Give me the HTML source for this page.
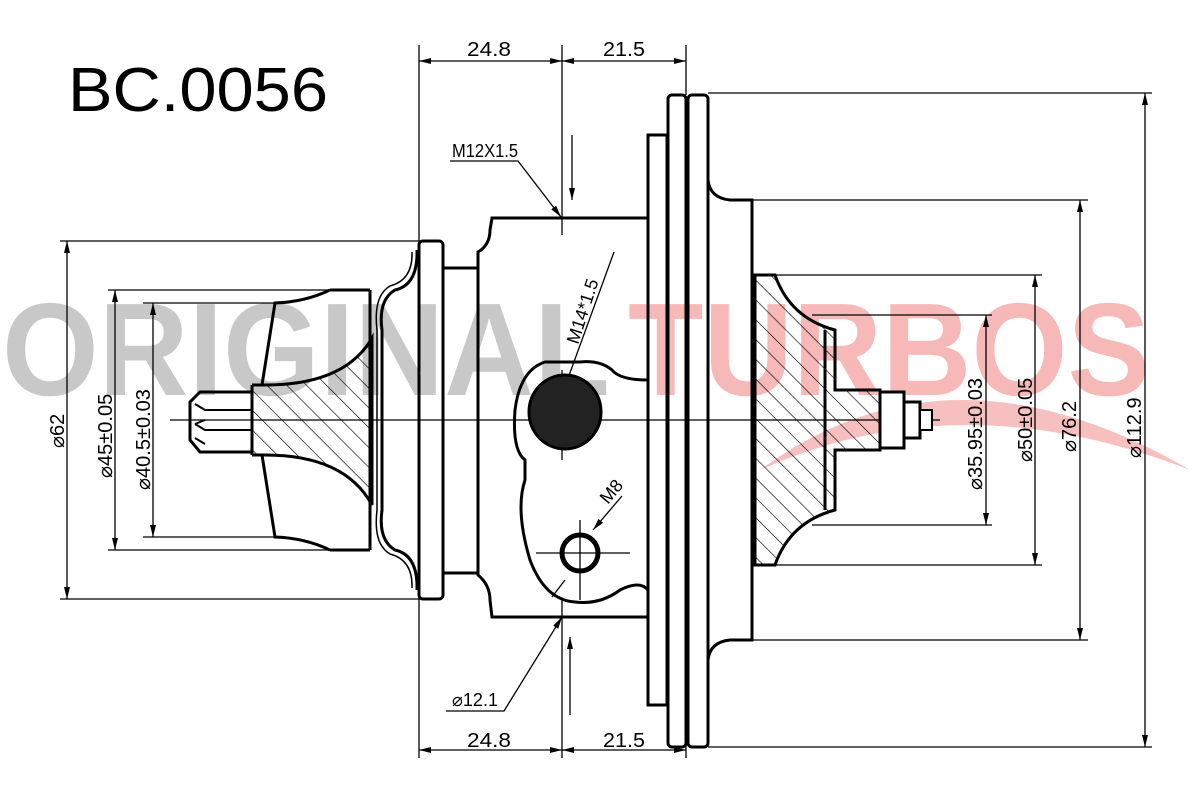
<!DOCTYPE html>
<html><head><meta charset="utf-8"><style>html,body{margin:0;padding:0;background:#fff}svg{display:block}</style></head>
<body>
<svg width="1200" height="800" viewBox="0 0 1200 800" xmlns="http://www.w3.org/2000/svg" font-family="Liberation Sans, sans-serif">
<defs>
<marker id="a" viewBox="0 0 12 6" refX="12" refY="3" markerWidth="12" markerHeight="6" orient="auto-start-reverse" markerUnits="userSpaceOnUse"><path d="M0,0L12,3L0,6z" fill="#000"/></marker>
<pattern id="h" width="14" height="14" patternUnits="userSpaceOnUse" patternTransform="rotate(-45)"><line x1="0" y1="0" x2="0" y2="14" stroke="#000" stroke-width="1.3"/></pattern>
</defs>
<rect width="1200" height="800" fill="#fff"/>
<text x="2" y="395" font-size="132" font-weight="bold" fill="#c8c8c8" textLength="608" lengthAdjust="spacingAndGlyphs">ORIGINAL</text>
<text x="628" y="395" font-size="132" font-weight="bold" fill="#f7b8b8" textLength="522" lengthAdjust="spacingAndGlyphs">TURBOS</text>
<path d="M760,470 Q950,330 1190,470 Q960,380 760,470z" fill="#f7c0c0"/>
<text x="68" y="111" font-size="62" fill="#000" textLength="260" lengthAdjust="spacingAndGlyphs">BC.0056</text>

<g stroke="#000" fill="none">
<line x1="170" y1="420" x2="940" y2="420" stroke-width="1.2"/>
<g stroke-width="1.3">
<line x1="419" y1="45" x2="419" y2="758"/>
<line x1="562" y1="45" x2="562" y2="235"/>
<line x1="562" y1="600" x2="562" y2="758"/>
<line x1="686" y1="45" x2="686" y2="95"/>
<line x1="686" y1="745" x2="686" y2="758"/>
<line x1="60" y1="241" x2="420" y2="241"/>
<line x1="60" y1="599" x2="420" y2="599"/>
<line x1="108" y1="290" x2="330" y2="290"/>
<line x1="108" y1="550" x2="330" y2="550"/>
<line x1="143" y1="303" x2="280" y2="303"/>
<line x1="143" y1="537" x2="280" y2="537"/>
<line x1="708" y1="93" x2="1152" y2="93"/>
<line x1="708" y1="747" x2="1152" y2="747"/>
<line x1="752" y1="200" x2="1088" y2="200"/>
<line x1="752" y1="640" x2="1088" y2="640"/>
<line x1="755" y1="275" x2="1042" y2="275"/>
<line x1="755" y1="565" x2="1042" y2="565"/>
<line x1="812" y1="315" x2="992" y2="315"/>
<line x1="812" y1="525" x2="992" y2="525"/>
<line x1="419" y1="61" x2="562" y2="61" marker-start="url(#a)" marker-end="url(#a)"/>
<line x1="562" y1="61" x2="686" y2="61" marker-start="url(#a)" marker-end="url(#a)"/>
<line x1="419" y1="750" x2="562" y2="750" marker-start="url(#a)" marker-end="url(#a)"/>
<line x1="562" y1="750" x2="686" y2="750" marker-start="url(#a)" marker-end="url(#a)"/>
<line x1="67" y1="241" x2="67" y2="599" marker-start="url(#a)" marker-end="url(#a)"/>
<line x1="115" y1="290" x2="115" y2="550" marker-start="url(#a)" marker-end="url(#a)"/>
<line x1="153" y1="303" x2="153" y2="537" marker-start="url(#a)" marker-end="url(#a)"/>
<line x1="1145" y1="93" x2="1145" y2="747" marker-start="url(#a)" marker-end="url(#a)"/>
<line x1="1080" y1="200" x2="1080" y2="640" marker-start="url(#a)" marker-end="url(#a)"/>
<line x1="1035" y1="275" x2="1035" y2="565" marker-start="url(#a)" marker-end="url(#a)"/>
<line x1="986" y1="315" x2="986" y2="525" marker-start="url(#a)" marker-end="url(#a)"/>
<polyline points="450,161 518,161 561,217" marker-end="url(#a)"/>
<line x1="572" y1="135" x2="572" y2="200" marker-end="url(#a)"/>
<polyline points="446,711 504,711 562,617" marker-end="url(#a)"/>
<line x1="570" y1="715" x2="570" y2="637" marker-end="url(#a)"/>
<line x1="614" y1="252" x2="563" y2="392"/>
<line x1="622" y1="496" x2="593" y2="530" marker-end="url(#a)"/>
<line x1="552" y1="597" x2="565" y2="580"/>
<line x1="536" y1="553" x2="630" y2="553"/>
<line x1="580" y1="520" x2="580" y2="600"/>
<line x1="562" y1="370" x2="562" y2="460"/>
</g>

<g stroke-width="3">
<rect x="419" y="241" width="24" height="358" rx="4"/>
<rect x="443" y="268" width="35" height="305"/>
<path d="M417,250 Q418,285 395,290 Q378,300 382,330 L382,510 Q378,540 395,550 Q418,555 417,590"/>
<path d="M412,252 Q413,280 390,286 Q373,296 377,330 L377,510 Q373,544 390,554 Q413,560 412,588" stroke-width="1.5"/>
<path d="M370,290 L370,550"/>
<path d="M330,290 L370,290 M330,550 L370,550"/>
<path d="M330,290 Q305,302 275,303 L262,385 M330,550 Q305,538 275,537 L262,455"/>
<path d="M252,385 L252,455 M252,385 L265,385 Q345,385 372,338 L372,505 Q345,455 265,455 L252,455"/>
<path d="M252,385 L265,385 Q345,385 372,338 L372,505 Q345,455 265,455 L252,455 z" fill="url(#h)" stroke="none"/>
<path d="M252,392 L200,392 L190,402 L190,440 L200,452 L252,452"/>
<path d="M195,404 L205,410 L252,410 M195,424 L205,420 M195,424 L205,430 L252,430 M195,438 L205,444" stroke-width="2"/>
</g>

<g stroke-width="3">
<path d="M478,268 L478,252 Q490,245 490,230 L492,218 L648,218 L648,380 Q620,380 612,370 Q600,360 580,362 L545,362 Q520,370 515,410 Q512,450 525,460 L525,480 Q515,510 530,560 Q545,600 575,602 Q600,605 620,590 Q640,580 648,590 L648,617 L492,617 L490,600 Q490,585 478,575 Z"/>
<ellipse cx="565" cy="412" rx="36" ry="37" fill="#222"/>
<circle cx="580" cy="553" r="18" stroke-width="5"/>
<rect x="648" y="135" width="19" height="570"/>
<rect x="668" y="95" width="18" height="652" rx="4"/>
<rect x="688" y="95" width="20" height="652" rx="4"/>
</g>

<g stroke-width="3">
<path d="M708,100 L708,180 Q710,198 730,200 L752,200 L752,640 L730,640 Q710,642 708,660 L708,740"/>
<path d="M755,275 L775,275 Q790,318 835,330 L835,390 L880,390 L880,450 L835,450 L835,510 Q790,522 775,565 L755,565 Z"/>
<path d="M755,275 L775,275 Q790,318 835,330 L835,390 L880,390 L880,450 L835,450 L835,510 Q790,522 775,565 L755,565 Z" fill="url(#h)" stroke="none"/>
<line x1="825" y1="330" x2="825" y2="510"/>
<rect x="880" y="392" width="24" height="56" fill="#fff"/>
<rect x="904" y="402" width="16" height="36" fill="#fff"/>
<rect x="920" y="410" width="12" height="20" fill="#fff" stroke-width="2"/>
</g>
</g>

<g font-size="20" fill="#000">
<text x="467" y="56" textLength="44" lengthAdjust="spacingAndGlyphs">24.8</text>
<text x="603" y="56" textLength="42" lengthAdjust="spacingAndGlyphs">21.5</text>
<text x="467" y="747" textLength="44" lengthAdjust="spacingAndGlyphs">24.8</text>
<text x="603" y="747" textLength="42" lengthAdjust="spacingAndGlyphs">21.5</text>
<text x="452" y="157" font-size="18" textLength="66" lengthAdjust="spacingAndGlyphs">M12X1.5</text>
<text x="452" y="706" font-size="18" textLength="46" lengthAdjust="spacingAndGlyphs">⌀12.1</text>
<text transform="translate(64,448) rotate(-90)">⌀62</text>
<text transform="translate(112,478) rotate(-90)">⌀45±0.05</text>
<text transform="translate(150,490) rotate(-90)">⌀40.5±0.03</text>
<text transform="translate(982,490) rotate(-90)">⌀35.95±0.03</text>
<text transform="translate(1032,462) rotate(-90)">⌀50±0.05</text>
<text transform="translate(1076,452) rotate(-90)">⌀76.2</text>
<text transform="translate(1141,458) rotate(-90)">⌀112.9</text>
<text transform="translate(578,345) rotate(-72)" font-size="18">M14*1.5</text>
<text transform="translate(608,505) rotate(-50)" font-size="18">M8</text>
</g>
</svg>
</body></html>
